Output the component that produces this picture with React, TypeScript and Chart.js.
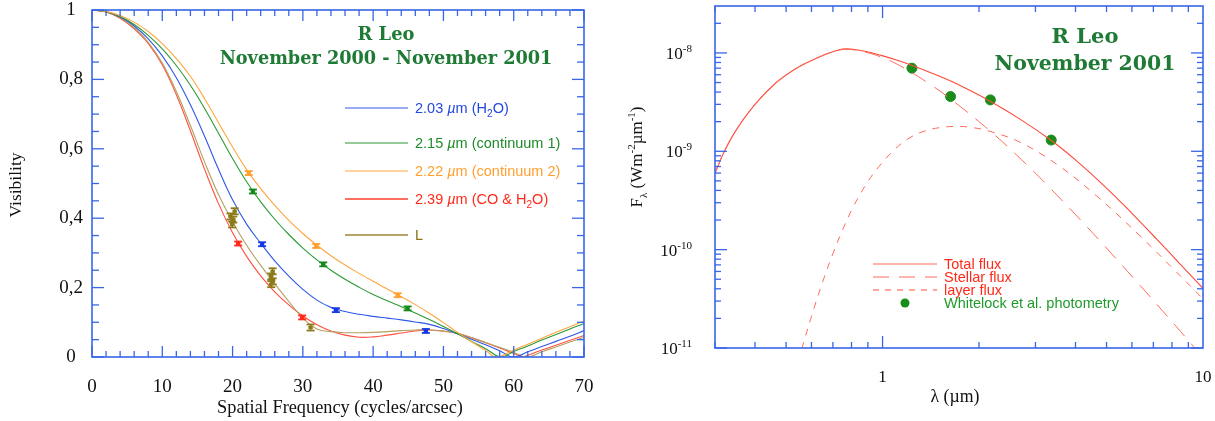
import React, { useEffect, useRef } from 'react';
import { Chart, registerables } from 'chart.js';

Chart.register(...registerables);

// ---------------- Left panel: visibility curves ----------------
const freq = [0, 2, 4, 6, 8, 10, 12, 14, 16, 18, 20, 22, 24, 26, 28, 30, 32, 34, 36, 38, 40, 42, 44, 46, 48, 50, 52, 54, 56, 58, 60, 62, 64, 66, 68, 70];
const vis203 = [1, .995, .98, .954, .917, .868, .805, .727, .637, .541, .453, .383, .328, .277, .233, .195, .164, .143, .131, .123, .117, .112, .107, .101, .094, .082, .067, .051, .035, .018, 0, .015, .03, .045, .06, .076];
const vis215 = [1, .995, .981, .958, .927, .888, .84, .783, .717, .645, .572, .505, .447, .397, .353, .314, .28, .25, .224, .201, .18, .162, .145, .127, .108, .088, .067, .045, .024, .003, .016, .032, .049, .065, .081, .096];
const vis222 = [1, .996, .984, .965, .938, .903, .86, .809, .745, .675, .605, .54, .485, .437, .394, .356, .322, .292, .265, .241, .218, .196, .174, .151, .126, .099, .071, .044, .019, .004, .02, .037, .054, .071, .087, .104];
const vis239 = [1, .994, .976, .946, .904, .842, .756, .652, .542, .442, .358, .29, .234, .188, .15, .118, .093, .075, .063, .057, .058, .063, .069, .075, .078, .075, .068, .055, .041, .026, .01, .005, .02, .034, .048, .062];
const visL = [1, .995, .978, .949, .907, .847, .765, .667, .563, .468, .39, .322, .264, .211, .16, .112, .081, .073, .07, .07, .071, .073, .076, .078, .078, .074, .068, .056, .042, .028, .013, .001, .015, .029, .043, .057];
const zero203 = 60.0;
const zero215 = 58.2;
const zero222 = 57.5;
const zero239 = 61.3;
const zeroL = 61.8;

const obs203F = [24.2, 34.7, 47.5];
const obs203V = [0.325, 0.135, 0.075];
const obs215F = [22.9, 32.9, 44.9];
const obs215V = [0.477, 0.267, 0.14];
const obs222F = [22.3, 31.9, 43.5];
const obs222V = [0.53, 0.32, 0.178];
const obs239F = [20.8, 29.9];
const obs239V = [0.327, 0.114];
const obsLF = [19.7, 19.95, 20.1, 20.3, 25.5, 25.7, 25.7, 25.5, 31.1];
const obsLV = [0.405, 0.382, 0.396, 0.42, 0.21, 0.218, 0.247, 0.232, 0.085];
const obsErr = 0.006;
const obsErrL = 0.009;

const visTickValues = [0, 0.2, 0.4, 0.6, 0.8, 1];
const visTickLabels = ['0', '0,2', '0,4', '0,6', '0,8', '1'];
const freqTickValues = [0, 10, 20, 30, 40, 50, 60, 70];

// ---------------- Right panel: SED ----------------
const lamTotal = [0.3, 0.321, 0.35, 0.4, 0.466, 0.539, 0.63, 0.7, 0.77, 0.88, 0.99, 1.13, 1.244, 1.507, 1.74, 2.16, 2.7, 3.37, 4.0, 5.0, 6.0, 7.17, 8.5, 10];
const fluxTotal = [6.0e-10, 1.0e-9, 1.66e-9, 3.0e-9, 5.0e-9, 7.0e-9, 9.0e-9, 1.03e-8, 1.1e-8, 1.04e-8, 9.44e-9, 8.28e-9, 7.41e-9, 5.78e-9, 4.69e-9, 3.25e-9, 2.1e-9, 1.28e-9, 8.17e-10, 4.23e-10, 2.34e-10, 1.28e-10, 7.1e-11, 4.05e-11];
const lamStar = [0.3, 0.321, 0.35, 0.4, 0.466, 0.539, 0.63, 0.7, 0.77, 0.88, 0.99, 1.13, 1.4, 1.66, 2.16, 2.62, 3.25, 4.54, 6.36, 8.27, 10];
const fluxStar = [6.0e-10, 1.0e-9, 1.66e-9, 3.0e-9, 5.0e-9, 7.0e-9, 9.0e-9, 1.03e-8, 1.09e-8, 1.02e-8, 9.08e-9, 7.45e-9, 4.85e-9, 3.25e-9, 1.62e-9, 9.16e-10, 4.6e-10, 1.46e-10, 4.33e-11, 1.64e-11, 8.0e-12];
const lamLayer = [0.53, 0.556, 0.6, 0.65, 0.7, 0.75, 0.807, 0.89, 0.978, 1.1, 1.21, 1.35, 1.507, 1.7, 1.915, 2.2, 2.68, 3.49, 4.65, 6.36, 8.07, 10];
const fluxLayer = [5.2e-12, 9.1e-12, 2.09e-11, 4.69e-11, 9.1e-11, 1.58e-10, 2.65e-10, 4.65e-10, 7.1e-10, 1.07e-9, 1.36e-9, 1.6e-9, 1.74e-9, 1.79e-9, 1.74e-9, 1.57e-9, 1.24e-9, 7.4e-10, 3.53e-10, 1.38e-10, 6.4e-11, 3.16e-11];
const lamPhot = [1.235, 1.63, 2.17, 3.36];
const fluxPhot = [7.0e-9, 3.6e-9, 3.33e-9, 1.3e-9];

const fluxDecades = [-8, -9, -10, -11];
const lamTickValues = [1, 10];
const lamTickLabels = ['1', '10'];

// ---------------- styling ----------------
const FRAME = '#3766e8';
const TITLE_GREEN = '#1e7a34';
const SERIF = '"Liberation Serif", "DejaVu Serif", serif';
const TSERIF = '"DejaVu Serif", "Liberation Serif", serif';
const SANS = '"Liberation Sans", Arial, sans-serif';

type Run = { t: string; s?: number; dy?: number; it?: boolean };

function drawRich(ctx: CanvasRenderingContext2D, runs: Run[], x: number, y: number, size: number, fam: string, weight: string, align: string, color: string, fit?: number) {
  const font = (r: Run, sz: number) => `${r.it ? 'italic ' : ''}${weight} ${sz * (r.s || 1)}px ${fam}`;
  const measure = (sz: number) => runs.reduce((w, r) => { ctx.font = font(r, sz); return w + ctx.measureText(r.t).width; }, 0);
  let s = size;
  let w = measure(s);
  if (fit) { s = s * fit / w; w = measure(s); }
  let cx = align === 'left' ? x : align === 'center' ? x - w / 2 : x - w;
  ctx.fillStyle = color;
  ctx.textAlign = 'left';
  ctx.textBaseline = 'alphabetic';
  for (const r of runs) {
    ctx.font = font(r, s);
    ctx.fillText(r.t, cx, y + (r.dy || 0) * s);
    cx += ctx.measureText(r.t).width;
  }
}

function line(ctx: CanvasRenderingContext2D, x1: number, y1: number, x2: number, y2: number) {
  ctx.beginPath(); ctx.moveTo(x1, y1); ctx.lineTo(x2, y2); ctx.stroke();
}

function curve(vals: number[], zero: number) {
  const pts = freq.map((x, i) => ({ x, y: vals[i] })).filter(p => Math.abs(p.x - zero) > 0.6);
  pts.push({ x: zero, y: 0 });
  pts.sort((a, b) => a.x - b.x);
  return pts;
}

function pts(xs: number[], ys: number[]) {
  return xs.map((x, i) => ({ x, y: ys[i] }));
}

const leftDecor = {
  id: 'leftDecor',
  afterDatasetsDraw(chart: any) {
    const { ctx, chartArea: a, scales } = chart;
    const xs = scales.x, ys = scales.y;
    ctx.save();
    // error bars
    chart.data.datasets.forEach((ds: any, i: number) => {
      if (!ds.errBar) return;
      const meta = chart.getDatasetMeta(i);
      ctx.fillStyle = ds.errColor;
      meta.data.forEach((el: any, j: number) => {
        const v = ds.data[j].y;
        const e = Math.abs(ys.getPixelForValue(v + ds.errBar) - ys.getPixelForValue(v));
        const px = el.x, py = el.y;
        ctx.fillRect(px - 0.8, py - e, 1.6, 2 * e);
        ctx.fillRect(px - 4, py - e - 0.8, 8, 1.8);
        ctx.fillRect(px - 4, py + e - 1, 8, 1.8);
        ctx.fillRect(px - 2.2, py - 1.6, 4.4, 3.2);
      });
    });
    // frame & ticks
    ctx.strokeStyle = FRAME;
    ctx.lineWidth = 1.6;
    ctx.strokeRect(a.left, a.top, a.right - a.left, a.bottom - a.top);
    ctx.lineWidth = 1.3;
    for (let k = 0; k <= 35; k++) {
      const v = k * 2;
      const px = xs.getPixelForValue(v);
      const len = v % 10 === 0 ? 11 : 6;
      line(ctx, px, a.bottom, px, a.bottom - len);
      line(ctx, px, a.top, px, a.top + len);
    }
    for (let k = 0; k <= 20; k++) {
      const py = ys.getPixelForValue(k * 0.05);
      const len = k % 4 === 0 ? 12 : 7;
      line(ctx, a.left, py, a.left + len, py);
      line(ctx, a.right, py, a.right - len, py);
    }
    // tick labels
    ctx.fillStyle = '#111';
    ctx.font = `19px ${SERIF}`;
    ctx.textAlign = 'center';
    ctx.textBaseline = 'middle';
    visTickValues.forEach((v, i) => ctx.fillText(visTickLabels[i], 71, ys.getPixelForValue(v)));
    freqTickValues.forEach(v => ctx.fillText(String(v), xs.getPixelForValue(v), 387));
    // axis titles
    drawRich(ctx, [{ t: 'Spatial Frequency (cycles/arcsec)' }], 340, 413, 18, SERIF, 'normal', 'center', '#111', 246);
    ctx.save();
    ctx.translate(21, 185);
    ctx.rotate(-Math.PI / 2);
    drawRich(ctx, [{ t: 'Visibility' }], 0, 0, 18, SERIF, 'normal', 'center', '#111', 65);
    ctx.restore();
    // title
    drawRich(ctx, [{ t: 'R Leo' }], 386, 40, 18, TSERIF, 'bold', 'center', TITLE_GREEN, 57);
    drawRich(ctx, [{ t: 'November 2000 - November 2001' }], 386, 64, 18, TSERIF, 'bold', 'center', TITLE_GREEN, 333);
    // legend
    const leg = [
      { y: 108, lc: '#2e58e6', tc: '#2448e0', lw: 1.2, runs: [{ t: '2.03 ' }, { t: 'µ', it: true }, { t: 'm (H' }, { t: '2', s: 0.7, dy: 0.3 }, { t: 'O)' }] },
      { y: 143, lc: '#2a9a35', tc: '#1e8c2a', lw: 1.2, runs: [{ t: '2.15 ' }, { t: 'µ', it: true }, { t: 'm (continuum 1)' }] },
      { y: 171, lc: '#ffa640', tc: '#ffa030', lw: 1.2, runs: [{ t: '2.22 ' }, { t: 'µ', it: true }, { t: 'm (continuum 2)' }] },
      { y: 199, lc: '#ff7060', tc: '#ff2a1a', lw: 2, runs: [{ t: '2.39 ' }, { t: 'µ', it: true }, { t: 'm (CO & H' }, { t: '2', s: 0.7, dy: 0.3 }, { t: 'O)' }] },
      { y: 235, lc: '#b8a468', tc: '#8a7414', lw: 2, runs: [{ t: 'L' }] },
    ];
    leg.forEach(l => {
      ctx.strokeStyle = l.lc;
      ctx.lineWidth = l.lw;
      line(ctx, 345, l.y, 408, l.y);
      drawRich(ctx, l.runs as Run[], 415, l.y + 5, 14.5, SANS, 'normal', 'left', l.tc);
    });
    ctx.restore();
  },
};

const rightDecor = {
  id: 'rightDecor',
  afterDatasetsDraw(chart: any) {
    const { ctx, chartArea: a, scales } = chart;
    const xs = scales.x, ys = scales.y;
    ctx.save();
    ctx.strokeStyle = FRAME;
    ctx.lineWidth = 1.6;
    ctx.strokeRect(a.left, a.top, a.right - a.left, a.bottom - a.top);
    ctx.lineWidth = 1.3;
    [0.1, 1].forEach(d => {
      for (let m = 1; m <= 9; m++) {
        const v = m * d;
        if (v <= 0.3 || v >= 10) continue;
        const px = xs.getPixelForValue(v);
        const len = m === 1 ? 12 : 6;
        line(ctx, px, a.bottom, px, a.bottom - len);
        line(ctx, px, a.top, px, a.top + len);
      }
    });
    [-11, -10, -9, -8].forEach(e => {
      for (let m = 1; m <= 9; m++) {
        const v = m * Math.pow(10, e);
        if (v >= 2.99e-8) continue;
        const py = ys.getPixelForValue(v);
        const len = m === 1 ? 12 : 6;
        line(ctx, a.left, py, a.left + len, py);
        line(ctx, a.right, py, a.right - len, py);
      }
    });
    // tick labels
    fluxDecades.forEach(e => {
      const py = ys.getPixelForValue(Math.pow(10, e));
      drawRich(ctx, [{ t: '10' }, { t: String(e), s: 0.65, dy: -0.42 }], 92, py + 6, 17, SERIF, 'normal', 'right', '#111');
    });
    ctx.fillStyle = '#111';
    ctx.font = `17px ${SERIF}`;
    ctx.textAlign = 'center';
    ctx.textBaseline = 'middle';
    lamTickValues.forEach((v, i) => ctx.fillText(lamTickLabels[i], xs.getPixelForValue(v), 378));
    drawRich(ctx, [{ t: 'λ (µm)' }], 355, 402, 17, SERIF, 'normal', 'center', '#111', 49);
    ctx.save();
    ctx.translate(42, 157);
    ctx.rotate(-Math.PI / 2);
    drawRich(ctx, [{ t: 'F' }, { t: 'λ', s: 0.65, dy: 0.3 }, { t: ' (Wm' }, { t: '-2', s: 0.65, dy: -0.42 }, { t: 'µm' }, { t: '-1', s: 0.65, dy: -0.42 }, { t: ')' }], 0, 0, 16, SERIF, 'normal', 'center', '#111', 101);
    ctx.restore();
    // title
    drawRich(ctx, [{ t: 'R Leo' }], 485, 43, 22, TSERIF, 'bold', 'center', TITLE_GREEN, 67);
    drawRich(ctx, [{ t: 'November 2001' }], 485, 70, 22, TSERIF, 'bold', 'center', TITLE_GREEN, 181);
    // legend
    const rows = [
      { y: 264, dash: [] as number[], txt: 'Total flux', c: '#ff2a1a' },
      { y: 277, dash: [16, 10], txt: 'Stellar flux', c: '#ff2a1a' },
      { y: 290, dash: [6, 6], txt: 'layer flux', c: '#ff2a1a' },
    ];
    rows.forEach(r => {
      ctx.strokeStyle = '#ff6a5a';
      ctx.lineWidth = 1.2;
      ctx.setLineDash(r.dash);
      line(ctx, 273, r.y, 337, r.y);
      ctx.setLineDash([]);
      drawRich(ctx, [{ t: r.txt }], 344, r.y + 5, 14.5, SANS, 'normal', 'left', r.c);
    });
    ctx.fillStyle = '#1a8c1a';
    ctx.beginPath(); ctx.arc(305, 303, 4.5, 0, Math.PI * 2); ctx.fill();
    drawRich(ctx, [{ t: 'Whitelock et al. photometry' }], 344, 308, 14.5, SANS, 'normal', 'left', '#1f9a2a');
    ctx.restore();
  },
};

export default function App() {
  const leftRef = useRef<HTMLCanvasElement>(null);
  const rightRef = useRef<HTMLCanvasElement>(null);

  useEffect(() => {
    const lineDs = (data: any[], color: string) => ({
      type: 'line', data, borderColor: color, borderWidth: 1.1, pointRadius: 0,
      tension: 0.4, fill: false,
    });
    const obsDs = (data: any[], color: string, err: number) => ({
      type: 'scatter', data, pointRadius: 0, showLine: false, errBar: err, errColor: color,
    });
    const left = new Chart(leftRef.current as HTMLCanvasElement, {
      type: 'line',
      data: {
        datasets: [
          lineDs(curve(vis222, zero222), '#ffa640'),
          lineDs(curve(vis215, zero215), '#2a9a35'),
          lineDs(curve(vis203, zero203), '#2e58e6'),
          lineDs(curve(visL, zeroL), '#b4a060'),
          lineDs(curve(vis239, zero239), '#ff5040'),
          obsDs(pts(obs222F, obs222V), '#ffa030', obsErr),
          obsDs(pts(obs215F, obs215V), '#158a1a', obsErr),
          obsDs(pts(obs203F, obs203V), '#1438e0', obsErr),
          obsDs(pts(obs239F, obs239V), '#ff2a1a', obsErr),
          obsDs(pts(obsLF, obsLV), '#8c7a18', obsErrL),
        ] as any,
      },
      options: {
        responsive: false,
        animation: false,
        layout: { padding: { left: 92, top: 10, right: 16, bottom: 64 } },
        scales: {
          x: { type: 'linear', min: 0, max: 70, display: false },
          y: { type: 'linear', min: 0, max: 1, display: false },
        },
        plugins: { legend: { display: false }, title: { display: false }, tooltip: { enabled: false } },
        events: [],
      },
      plugins: [leftDecor],
    } as any);

    const right = new Chart(rightRef.current as HTMLCanvasElement, {
      type: 'line',
      data: {
        datasets: [
          { data: pts(lamLayer, fluxLayer), borderColor: '#ff6a5a', borderWidth: 1, borderDash: [7, 7], pointRadius: 0, tension: 0.4 },
          { data: pts(lamStar, fluxStar), borderColor: '#ff6a5a', borderWidth: 1, borderDash: [16, 10], pointRadius: 0, tension: 0.4 },
          { data: pts(lamTotal, fluxTotal), borderColor: '#ff4a3a', borderWidth: 1.1, pointRadius: 0, tension: 0.4 },
          { type: 'scatter', data: pts(lamPhot, fluxPhot), backgroundColor: '#1a8c1a', borderColor: '#1a8c1a', pointRadius: 5, showLine: false },
        ] as any,
      },
      options: {
        responsive: false,
        animation: false,
        layout: { padding: { left: 115, top: 3, right: 12, bottom: 73 } },
        scales: {
          x: { type: 'logarithmic', min: 0.3, max: 10, display: false },
          y: { type: 'logarithmic', min: 1e-11, max: 3e-8, display: false },
        },
        plugins: { legend: { display: false }, title: { display: false }, tooltip: { enabled: false } },
        events: [],
      },
      plugins: [rightDecor],
    } as any);

    return () => { left.destroy(); right.destroy(); };
  }, []);

  return (
    <div style={{ position: 'absolute', left: 0, top: 0, width: 1215, height: 421, background: '#fff' }}>
      <canvas ref={leftRef} width={600} height={421} style={{ position: 'absolute', left: 0, top: 0 }} />
      <canvas ref={rightRef} width={615} height={421} style={{ position: 'absolute', left: 600, top: 0 }} />
    </div>
  );
}
